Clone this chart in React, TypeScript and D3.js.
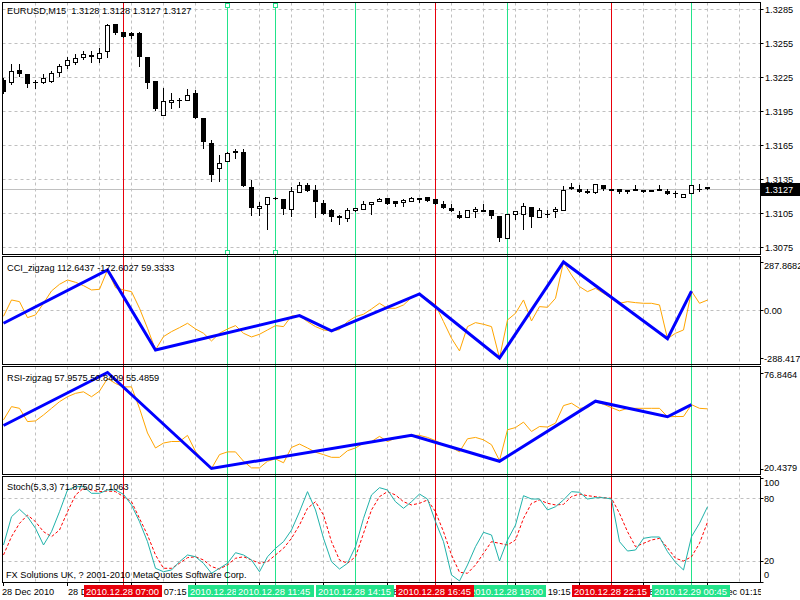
import React from "react";
import * as d3 from "d3";

// ---------- data ----------
const openP = [1.3223,1.3221,1.3232,1.3228,1.3221,1.3221,1.3222,1.3230,1.3236,1.3239,
1.3243,1.3245,1.3242,1.3248,1.3272,1.3265,1.3264,1.3264,1.3243,1.3222,
1.3192,1.3203,1.3205,1.3205,1.3211,1.3189,1.3167,1.3145,1.3151,1.3160,
1.3159,1.3128,1.3110,1.3113,1.3119,1.3118,1.3109,1.3124,1.3130,1.3126,
1.3114,1.3108,1.3103,1.3101,1.3108,1.3109,1.3113,1.3116,1.3119,1.3116,
1.3115,1.3116,1.3119,1.3120,1.3118,1.3113,1.3110,1.3104,1.3102,1.3107,
1.3108,1.3108,1.3103,1.3083,1.3105,1.3105,1.3111,1.3102,1.3105,1.3107,
1.3108,1.3128,1.3127,1.3125,1.3124,1.3130,1.3127,1.3127,1.3126,1.3127,
1.3126,1.3126,1.3127,1.3125,1.3123,1.3120,1.3123,1.3127,1.3128];
const highP = [1.3225,1.3237,1.3237,1.3228,1.3223,1.3228,1.3231,1.3237,1.3243,1.3246,
1.3248,1.3248,1.3251,1.3272,1.3272,1.3265,1.3265,1.3265,1.3243,1.3222,
1.3216,1.3211,1.3207,1.3215,1.3214,1.3189,1.3170,1.3157,1.3159,1.3162,
1.3162,1.3135,1.3115,1.3120,1.3120,1.3118,1.3128,1.3133,1.3132,1.3130,
1.3117,1.3109,1.3104,1.3110,1.3110,1.3116,1.3115,1.3119,1.3119,1.3116,
1.3118,1.3120,1.3119,1.3120,1.3118,1.3116,1.3113,1.3107,1.3108,1.3111,
1.3113,1.3108,1.3103,1.3105,1.3107,1.3114,1.3111,1.3110,1.3108,1.3111,
1.3129,1.3132,1.3130,1.3127,1.3131,1.3130,1.3127,1.3127,1.3126,1.3130,
1.3126,1.3126,1.3130,1.3127,1.3125,1.3122,1.3130,1.3131,1.3128];
const lowP = [1.3211,1.3219,1.3226,1.3217,1.3216,1.3220,1.3221,1.3226,1.3233,1.3237,
1.3241,1.3239,1.3239,1.3243,1.3263,1.3261,1.3260,1.3235,1.3216,1.3196,
1.3192,1.3198,1.3199,1.3205,1.3189,1.3163,1.3134,1.3134,1.3151,1.3154,
1.3129,1.3104,1.3104,1.3091,1.3118,1.3105,1.3103,1.3124,1.3125,1.3102,
1.3105,1.3098,1.3096,1.3098,1.3107,1.3109,1.3105,1.3116,1.3113,1.3112,
1.3112,1.3116,1.3115,1.3116,1.3113,1.3110,1.3107,1.3101,1.3102,1.3102,
1.3107,1.3101,1.3081,1.3083,1.3100,1.3091,1.3093,1.3102,1.3102,1.3102,
1.3108,1.3127,1.3124,1.3123,1.3123,1.3126,1.3126,1.3123,1.3123,1.3126,
1.3124,1.3125,1.3126,1.3122,1.3120,1.3120,1.3123,1.3125,1.3127];
const closeP = [1.3212,1.3231,1.3228,1.3219,1.3221,1.3225,1.3229,1.3235,1.3240,1.3242,
1.3246,1.3243,1.3247,1.3271,1.3264,1.3261,1.3262,1.3243,1.3220,1.3197,
1.3204,1.3205,1.3205,1.3210,1.3189,1.3168,1.3139,1.3150,1.3158,1.3158,
1.3129,1.3110,1.3112,1.3120,1.3119,1.3109,1.3125,1.3130,1.3125,1.3115,
1.3105,1.3102,1.3102,1.3108,1.3110,1.3113,1.3115,1.3118,1.3113,1.3113,
1.3117,1.3119,1.3117,1.3116,1.3113,1.3110,1.3107,1.3101,1.3108,1.3109,
1.3107,1.3103,1.3083,1.3105,1.3107,1.3112,1.3102,1.3108,1.3105,1.3109,
1.3126,1.3127,1.3124,1.3123,1.3131,1.3127,1.3126,1.3124,1.3125,1.3126,
1.3125,1.3125,1.3126,1.3122,1.3123,1.3122,1.3130,1.3127,1.3127];

const cciVals = [-38,60,50,-46,-30,40,114,154,180,166,
146,120,124,240,134,120,110,10,-110,-240,
-160,-130,-106,-80,-114,-140,-186,-140,-114,-94,
-140,-162,-146,-120,-94,-100,-36,-34,-70,-100,
-120,-126,-118,-70,-40,-26,6,40,10,10,
30,74,96,66,30,-70,-170,-246,-100,-76,
-86,-100,-288.417,-60,-20,60,-66,20,16,70,
287.8682,210,140,110,130,100,70,40,50,44,
40,40,30,-172.6027,-140,-120,112.6437,40,59.3333];
const cciZzBars = [0,13,19,37,41,52,62,70,83,86];
const cciZzVals = [-80,240,-240,-34,-126,96,-288.417,287.8682,-172.6027,112.6437];

const rsiVals = [49.0,56.8,55.8,48.0,48.4,51.9,55.8,59.7,62.6,64.6,
65.5,62.6,65.9,73.3,70.4,68.4,68.4,55.8,41.3,32.5,
35.4,36.3,36.3,39.9,30.5,24.7,20.4379,28.6,30.2,30.2,
24.7,20.8,20.8,24.7,26.1,23.8,32.8,34.8,32.5,30.0,
28.6,27.0,27.0,30.9,32.5,35.4,36.3,39.3,36.3,38.3,
38.7,39.9,39.9,38.7,36.8,34.4,32.8,30.2,37.9,38.7,
37.3,34.4,25.1,43.2,44.5,47.7,42.2,45.1,44.8,47.1,
57.4,58.8,55.8,56.2,59.7,58.2,56.2,54.3,55.8,55.8,
55.8,55.8,55.8,50.8409,51.0,51.0,57.9575,55.8,55.4859];
const rsiZzBars = [0,13,26,51,62,74,83,86];
const rsiZzVals = [45.7,76.8464,20.4379,40.0,24.7,60.0,50.8409,57.9575];

const stochMain = [35.1,62.3,69.4,62.3,51.2,35.1,47.9,67.1,88.0,91.2,
91.2,84.8,84.8,88.0,88.0,83.8,73.6,57.5,38.3,12.7,
9.4,11.1,19.0,25.5,23.8,17.5,7.9,12.7,17.5,27.7,
25.5,20.7,9.4,23.8,31.9,38.3,49.5,67.1,86.4,68.8,
41.5,19.0,12.0,17.5,33.5,60.7,83.2,90.2,88.0,76.7,
70.4,76.7,84.1,79.3,57.5,38.3,6.3,0.5,15.9,33.5,
47.3,44.7,19.7,39.9,54.3,82.5,79.3,79.3,68.8,71.9,
78.4,86.4,85.8,79.3,80.6,80.6,79.3,38.3,29.3,30.3,
41.5,42.8,42.8,28.7,18.4,11.1,43.1,56.0,71.875];
const stochSignal = [25.5,43.1,55.9,63.9,57.5,47.9,43.1,49.5,67.1,83.2,
89.6,88.0,86.4,87.0,86.4,81.6,76.7,60.7,44.7,25.5,
12.7,12.7,17.5,22.9,23.8,20.7,14.3,12.0,15.9,22.3,
23.8,20.7,17.5,19.1,25.5,31.9,41.5,54.3,70.4,76.7,
63.9,38.3,20.7,17.5,23.8,46.3,68.8,81.6,86.4,83.2,
76.7,73.6,75.2,78.4,67.1,47.9,25.5,8.9,7.9,15.9,
27.1,38.3,36.7,35.1,39.9,60.7,75.2,78.4,75.2,73.6,
74.2,81.6,84.1,82.5,81.6,80.6,80.0,65.5,47.9,33.5,
36.7,39.9,41.5,32.5,22.3,19.7,23.8,36.7,57.1063];

const priceTicks = [1.3285,1.3255,1.3225,1.3195,1.3165,1.3135,1.3105,1.3075];
const lastPrice = 1.3127;
const timeTickBars = [0,8,16,24,32,40,48,56,64,72,80,88];
const timeTickLabels = ["28 Dec 2010","28 Dec 05:15","28 Dec 07:15","28 Dec 09:15","28 Dec 11:15","28 Dec 13:15",
  "28 Dec 15:15","28 Dec 17:15","28 Dec 19:15","28 Dec 21:15","28 Dec 23:15","29 Dec 01:15"];
const vlineBars = [28,34,44,63,86,15,54,76];
const vlineColors = ["green","green","green","green","green","red","red","red"];
const vlineLabels = ["2010.12.28 10:15","2010.12.28 11:45","2010.12.28 14:15","2010.12.28 19:00","2010.12.29 00:45",
  "2010.12.28 07:00","2010.12.28 16:45","2010.12.28 22:15"];
const selectedBars = [28,34];

// ---------- styles ----------
const FONT = "'Liberation Sans', Arial, sans-serif";
const FS = 9.2;
const GRID = "#c0c0c0";
const GREEN = "#22e38a";
const RED = "#e8000b";
const ORANGE = "#ffa500";
const BLUE = "#0000ff";
const TEAL = "#20b2aa";
const L = 2.5, R = 760.5;

export default function App() {
  const n = closeP.length;
  const x = d3.scaleLinear().domain([0, 88]).range([3.5, 707.5]);
  const yMain = d3.scaleLinear().domain([1.3075, 1.3285]).range([247.5, 9.5]);
  const yCci = d3.scaleLinear().domain([-288.417, 287.8682]).range([358, 262]);
  const yRsi = d3.scaleLinear().domain([20.4379, 76.8464]).range([468.5, 372.5]);
  const ySt = d3.scaleLinear().domain([0, 100]).range([581.5, 477.5]);

  const panels = [
    { top: 2.5, bottom: 254.5 },
    { top: 256.5, bottom: 364.5 },
    { top: 366.5, bottom: 474.5 },
    { top: 476.5, bottom: 582.5 },
  ];
  const gridBars = d3.range(4, 93, 4);

  const lineGen = (ys: d3.ScaleLinear<number, number>) =>
    d3.line<number>().x((_, i) => x(i)).y((d) => ys(d));
  const zzGen = (ys: d3.ScaleLinear<number, number>, bars: number[]) =>
    d3.line<number>().x((_, i) => x(bars[i])).y((d) => ys(d));

  const txt = (props: any, s: string) => (
    <text fontFamily={FONT} fontSize={FS} fill="#000" style={{ whiteSpace: "pre" }} {...props}>{s}</text>
  );

  return (
    <svg width={800} height={600} style={{ position: "absolute", left: 0, top: 0, background: "#fff" }}>
      <rect x={0} y={0} width={800} height={600} fill="#fff" />
      {/* grids */}
      {panels.map((p, pi) =>
        gridBars.map((b) => (
          <line key={`vg${pi}-${b}`} x1={x(b)} x2={x(b)} y1={p.top} y2={p.bottom}
            stroke={GRID} strokeDasharray="3,3" />
        ))
      )}
      {priceTicks.map((p) => (
        <line key={`hg${p}`} x1={L} x2={R} y1={yMain(p)} y2={yMain(p)} stroke={GRID} strokeDasharray="3,3" />
      ))}
      <line x1={L} x2={R} y1={Math.round(yCci(0)) + 0.5} y2={Math.round(yCci(0)) + 0.5} stroke={GRID} strokeDasharray="3,3" />
      {[80, 20].map((v) => (
        <line key={`sg${v}`} x1={L} x2={R} y1={Math.round(ySt(v)) + 0.5} y2={Math.round(ySt(v)) + 0.5} stroke={GRID} strokeDasharray="3,3" />
      ))}
      {/* current price line */}
      <line x1={L} x2={R} y1={Math.round(yMain(lastPrice)) + 0.5} y2={Math.round(yMain(lastPrice)) + 0.5} stroke="#c0c0c0" />

      {/* vertical event lines */}
      {vlineBars.map((b, i) => (
        <line key={`vl${i}`} x1={x(b)} x2={x(b)} y1={2} y2={586}
          stroke={vlineColors[i] === "red" ? RED : GREEN} />
      ))}
      {selectedBars.map((b) => (
        <g key={`sel${b}`}>
          <rect x={x(b) - 2} y={3.5} width={4} height={4} fill="#fff" stroke={GREEN} />
          <rect x={x(b) - 2} y={250.5} width={4} height={4} fill="#fff" stroke={GREEN} />
        </g>
      ))}

      {/* candles */}
      {d3.range(n).map((i) => {
        const cx = x(i);
        const yh = Math.round(yMain(highP[i]));
        const yl = Math.round(yMain(lowP[i]));
        const yo = Math.round(yMain(openP[i]));
        const yc = Math.round(yMain(closeP[i]));
        const top = Math.min(yo, yc), bot = Math.max(yo, yc);
        let body;
        if (closeP[i] > openP[i]) {
          body = <rect x={cx - 2} y={top + 0.5} width={4} height={Math.max(bot - top, 1)} fill="#fff" stroke="#000" />;
        } else if (closeP[i] < openP[i]) {
          body = <rect x={cx - 2.5} y={top} width={5} height={Math.max(bot - top, 2)} fill="#000" />;
        } else {
          body = <line x1={cx - 2.5} x2={cx + 2.5} y1={top + 0.5} y2={top + 0.5} stroke="#000" />;
        }
        return (
          <g key={`c${i}`}>
            <line x1={cx} x2={cx} y1={yh} y2={yl + 1} stroke="#000" />
            {body}
          </g>
        );
      })}

      {/* CCI */}
      <path d={lineGen(yCci)(cciVals) || ""} fill="none" stroke={ORANGE} strokeWidth={1} />
      <path d={zzGen(yCci, cciZzBars)(cciZzVals) || ""} fill="none" stroke={BLUE} strokeWidth={3} />
      {/* RSI */}
      <path d={lineGen(yRsi)(rsiVals) || ""} fill="none" stroke={ORANGE} strokeWidth={1} />
      <path d={zzGen(yRsi, rsiZzBars)(rsiZzVals) || ""} fill="none" stroke={BLUE} strokeWidth={3} />
      {/* Stoch */}
      <path d={lineGen(ySt)(stochSignal) || ""} fill="none" stroke="#ff0000" strokeWidth={1} strokeDasharray="3,2" />
      <path d={lineGen(ySt)(stochMain) || ""} fill="none" stroke={TEAL} strokeWidth={1} />

      {/* cover outside plot on the left/right */}
      <rect x={0} y={0} width={2} height={583} fill="#fff" />
      <rect x={761} y={0} width={39} height={600} fill="#fff" />
      {/* panel frames */}
      {panels.map((p, pi) => (
        <rect key={`pf${pi}`} x={L} y={p.top} width={R - L} height={p.bottom - p.top} fill="none" stroke="#000" />
      ))}

      {/* price axis */}
      {priceTicks.map((p) => (
        <g key={`pt${p}`}>
          <line x1={R} x2={R + 3} y1={yMain(p)} y2={yMain(p)} stroke="#000" />
          {txt({ x: 765, y: yMain(p) + 3.5 }, p.toFixed(4))}
        </g>
      ))}
      <rect x={761} y={Math.round(yMain(lastPrice)) - 6} width={39} height={13} fill="#000" />
      {txt({ x: 765, y: Math.round(yMain(lastPrice)) + 4, fill: "#fff" }, lastPrice.toFixed(4))}

      {/* indicator axes */}
      {[[yCci(287.8682), "287.8682", 268.5], [yCci(0), "0.00", 313.5], [yCci(-288.417), "-288.417", 361.5],
        [yRsi(76.8464), "76.8464", 377.5], [yRsi(20.4379), "20.4379", 470.5],
        [ySt(100), "100", 486], [ySt(80), "80", 501.5], [ySt(20), "20", 563.5], [ySt(0), "0", 578]].map((d: any, i) => (
        <g key={`ia${i}`}>
          <line x1={R} x2={R + 3} y1={Math.round(d[0]) + 0.5} y2={Math.round(d[0]) + 0.5} stroke="#000" />
          {txt({ x: 764, y: d[2] }, d[1])}
        </g>
      ))}

      {/* panel titles */}
      {txt({ x: 7, y: 14 }, "EURUSD,M15  1.3128 1.3128 1.3127 1.3127")}
      {txt({ x: 7, y: 270.5 }, "CCI_zigzag 112.6437 -172.6027 59.3333")}
      {txt({ x: 7, y: 380.5 }, "RSI-zigzag 57.9575 50.8409 55.4859")}
      {txt({ x: 7, y: 490 }, "Stoch(5,3,3) 71.8750 57.1063")}
      {txt({ x: 6, y: 578 }, "FX Solutions UK, ? 2001-2010 MetaQuotes Software Corp.")}

      {/* time axis */}
      {timeTickBars.map((b, i) => (
        <g key={`tt${b}`}>
          <line x1={x(b)} x2={x(b)} y1={583} y2={586} stroke="#000" />
          {txt({ x: b === 0 ? 2 : x(b) + 0.5, y: 594.5 }, timeTickLabels[i])}
        </g>
      ))}
      <rect x={761} y={583} width={39} height={17} fill="#fff" />
      {vlineBars.map((b, i) => (
        <g key={`vb${i}`}>
          <rect x={x(b) - 39.5} y={585} width={78} height={12} fill={vlineColors[i] === "red" ? RED : GREEN} />
          {txt({ x: x(b) - 37.5, y: 595, fill: "#fff", fontSize: 9.4 }, vlineLabels[i])}
        </g>
      ))}
    </svg>
  );
}
